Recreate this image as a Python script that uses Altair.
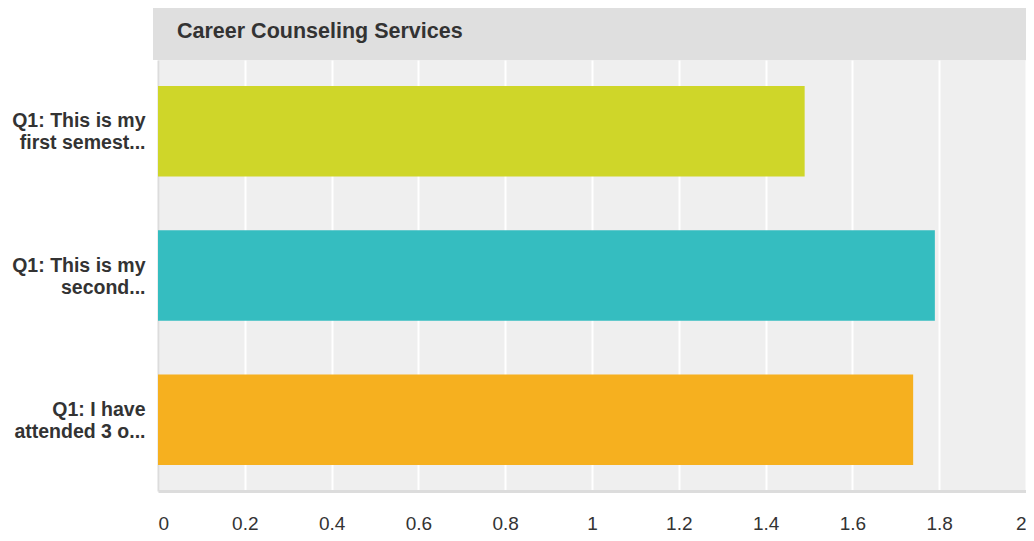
import altair as alt
import pandas as pd

categories = ["Q1: This is my|first semest...", "Q1: This is my|second...", "Q1: I have|attended 3 o..."]
values = [1.49, 1.79, 1.74]
colors = ["#cfd629", "#35bdc0", "#f6b01f"]
title_text = "Career Counseling Services"
x_ticks = [0, 0.2, 0.4, 0.6, 0.8, 1.0, 1.2, 1.4, 1.6, 1.8, 2.0]

df = pd.DataFrame({"cat": categories, "val": values, "color": colors})
FONT = "Liberation Sans"

W, H = 868, 431

bars = alt.Chart(df).mark_bar().encode(
    y=alt.Y("cat:N", sort=categories, title=None,
            scale=alt.Scale(paddingInner=0.372, paddingOuter=0.18),
            axis=alt.Axis(labelExpr="split(datum.label, '|')", labelFont=FONT,
                          labelFontSize=19.5, labelFontWeight="bold", labelColor="#333333",
                          labelPadding=13, labelLineHeight=22, labelOffset=-10, ticks=False,
                          domain=True, domainColor="#dcdcdc", domainWidth=2, grid=False,
                          labelLimit=200)),
    x=alt.X("val:Q", title=None, scale=alt.Scale(domain=[0, 2], nice=False),
            axis=alt.Axis(values=x_ticks, labelExpr="format(datum.value, '~g')",
                          labelFont=FONT, labelFontSize=19, labelColor="#333333",
                          labelPadding=23, ticks=False, domain=True, domainColor="#dcdcdc",
                          domainWidth=3, grid=True, gridColor="#ffffff", gridWidth=2,
                          labelFlush=True)),
    color=alt.Color("color:N", scale=None),
)

band_df = pd.DataFrame({"t": [title_text]})
band = alt.Chart(band_df).mark_rect(color="#dfdfdf", clip=False).encode(
    x=alt.value(-5), x2=alt.value(W + 10), y=alt.value(-52), y2=alt.value(0)
)
title = alt.Chart(band_df).mark_text(
    align="left", baseline="middle", font=FONT, fontSize=21.5, fontWeight="bold",
    color="#333333", clip=False
).encode(x=alt.value(19), y=alt.value(-28), text="t:N")

chart = alt.layer(band, bars, title).properties(
    width=W, height=H,
    padding={"left": 150, "top": 52, "right": 0, "bottom": 42},
    autosize=alt.AutoSizeParams(type="none"),
).configure_view(fill="#efefef", stroke=None)

chart.save("out.html", embed_options={"renderer": "svg", "actions": False})
